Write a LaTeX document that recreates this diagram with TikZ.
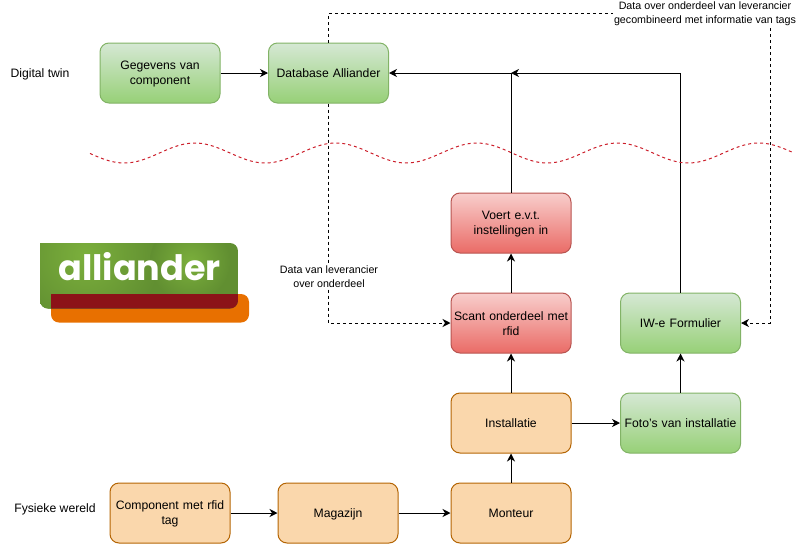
\documentclass[tikz,border=0pt]{standalone}
\usepackage{xcolor}
\usepackage{fontspec}
\setmainfont{Liberation Sans}
\newfontfamily\logofont{Poppins}
\usetikzlibrary{arrows.meta}
\definecolor{digitaltop}{HTML}{D5E8D4}
\definecolor{digitalbottom}{HTML}{97D077}
\definecolor{digitalline}{HTML}{82B366}
\definecolor{scantop}{HTML}{F8CECC}
\definecolor{scanbottom}{HTML}{EA6B66}
\definecolor{scanline}{HTML}{B85450}
\definecolor{physicalfill}{HTML}{FAD7AC}
\definecolor{physicalline}{HTML}{B46504}
\definecolor{wavered}{HTML}{CC1F2B}
\definecolor{logoorange}{HTML}{E87000}
\definecolor{logodark}{HTML}{8C1318}
\definecolor{logolight}{HTML}{7BAF3C}
\definecolor{logogreen}{HTML}{618F31}
\tikzstyle{box}=[minimum width=120pt,minimum height=60pt,rounded corners=9pt,align=center,text width=118pt,inner sep=0pt,line width=1pt,font=\fontsize{12.2}{15}\selectfont,execute at begin node={\rule{0pt}{11pt}},execute at end node={\rule[-2pt]{0pt}{2pt}}]
\tikzstyle{digital}=[box,draw=digitalline,top color=digitaltop,bottom color=digitalbottom]
\tikzstyle{scan}=[box,draw=scanline,top color=scantop,bottom color=scanbottom]
\tikzstyle{physical}=[box,draw=physicalline,fill=physicalfill]
\tikzstyle{flow}=[-{Stealth[length=8pt,width=8pt,inset=2.5pt]},line width=1pt]
\tikzstyle{dataflow}=[flow,dash pattern=on 3pt off 3pt]
\tikzstyle{note}=[fill=white,align=center,inner sep=1pt,font=\fontsize{10.7}{13.5}\selectfont]
\tikzstyle{world}=[align=center,font=\fontsize{12.2}{15}\selectfont]
\begin{document}
\begin{tikzpicture}[x=1pt,y=-1pt]
  \useasboundingbox (0,0) rectangle (798,544);

  %% Logo
  \fill[logoorange] (51,294) [rounded corners=8pt] -- (249,294) -- (249,322.5) -- (51,322.5) [sharp corners] -- cycle;
  \begin{scope}
    \clip (40,243) [rounded corners=8pt] -- (238,243) -- (238,308.5) -- (40,308.5) [sharp corners] -- cycle;
    \fill[logogreen] (40,243) rectangle (238,309);
    \shade[inner color=logolight,outer color=logogreen] (85,255) circle (75);
    \shade[inner color=logolight,outer color=logogreen] (190,262) circle (40);
    \fill[logodark] (51,294) rectangle (238,309);
  \end{scope}
  \draw (139.5,267) node[text=white,inner sep=0pt,font=\logofont\bfseries\fontsize{35}{35}\selectfont] (logotext) {alliander};

  %% Digital twin
  \draw (160,73) node[digital] (Gegevens) {Gegevens van\\component};
  \draw (328.5,73) node[digital] (Database) {Database Alliander};
  \draw (511,223) node[scan] (Voert) {Voert e.v.t.\\instellingen in};
  \draw (511,323) node[scan] (Scant) {Scant onderdeel met\\rfid};
  \draw (680.5,323) node[digital] (Formulier) {IW-e Formulier};
  \draw (680.5,423) node[digital] (Fotos) {Foto's van installatie};

  %% Physical world
  \draw (511,423) node[physical] (Installatie) {Installatie};
  \draw (511,513) node[physical] (Monteur) {Monteur};
  \draw (338,513) node[physical] (Magazijn) {Magazijn};
  \draw (170,513) node[physical] (Component) {Component met rfid\\tag};

  \coordinate (Join) at (511,73);
  \coordinate (TopRight) at (770,13);

  \draw[flow] (Gegevens) -- (Database);
  \draw[flow] (Voert.north) -- (Join) -- (Database.east);
  \draw[flow] (Formulier.north) |- (Join);
  \draw[flow] (Scant) -- (Voert);
  \draw[flow] (Fotos) -- (Formulier);
  \draw[flow] (Installatie) -- (Scant);
  \draw[flow] (Installatie) -- (Fotos);
  \draw[flow] (Monteur) -- (Installatie);
  \draw[flow] (Magazijn) -- (Monteur);
  \draw[flow] (Component) -- (Magazijn);

  \draw[dataflow] (Database.south) |- (Scant.west);
  \draw[dataflow] (Database.north) |- (TopRight) |- (Formulier.east);

  %% Labels
  \draw (329,276.5) node[note] (LabelLeverancier) {Data van leverancier\\over onderdeel};
  \draw (705,13.5) node[note] (LabelTags) {Data over onderdeel van leverancier\\gecombineerd met informatie van tags};
  \draw (40,74) node[world] (LabelDigital) {Digital twin};
  \draw (55,509.5) node[world] (LabelFysiek) {Fysieke wereld};

  %% Border between both worlds
  \draw[wavered,line width=1pt,dash pattern=on 3pt off 3pt,smooth] plot[domain=90:792,samples=120] (\x,{153+10*sin(360/141*(\x-89))});
\end{tikzpicture}
\end{document}
